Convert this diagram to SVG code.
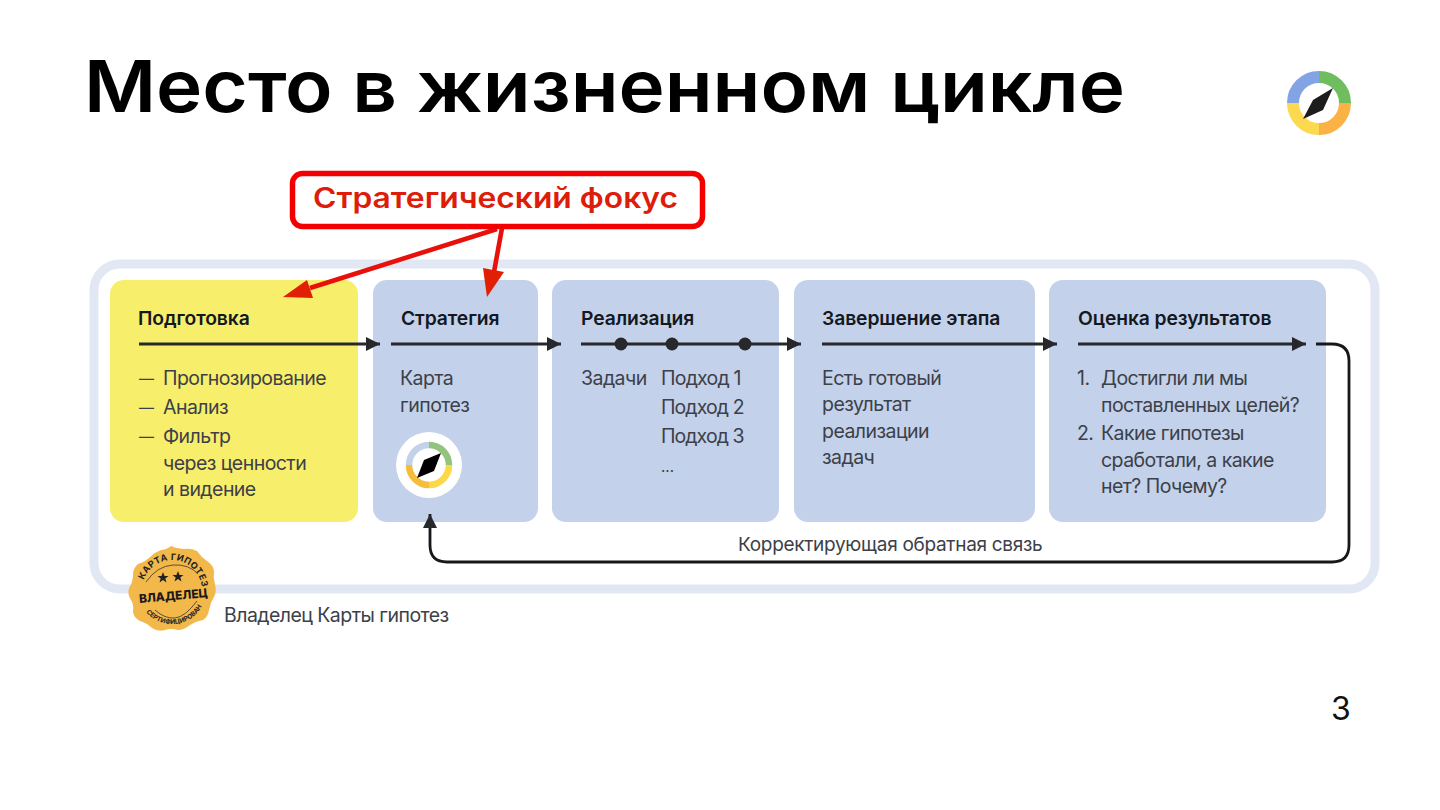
<svg xmlns="http://www.w3.org/2000/svg" width="1440" height="810" viewBox="0 0 1440 810">
<style>
text{font-family:Inter,"Noto Sans",sans-serif}
.h{font-size:19.3px;font-weight:600;fill:#14181f;letter-spacing:-.1px}
.b{font-size:19.5px;fill:#3c4048;letter-spacing:-.55px}
.d{font-size:15px;fill:#3c4048}
.card{fill:#c3d1ea}
.ln{stroke:#26282c;stroke-width:2.8;fill:none}
.red{stroke:#e8100a;stroke-width:4.6;fill:none}
.dot{fill:#26282c}
.seg{fill:none}
</style>
<defs>
<marker id="a" markerUnits="userSpaceOnUse" markerWidth="16" markerHeight="16" refX="14" refY="8" orient="auto"><path d="M0,1 L14,8 L0,15Z" fill="#26282c"/></marker>
<path id="arcTop" d="M146,605 A30,30 0 1 1 198,605"/>
<path id="arcBot" d="M142.600,573 A34,34 0 1 0 201.400,573"/>
</defs>
<rect width="1440" height="810" fill="#fff"/>
<text x="84" y="112" font-size="72" font-weight="600" fill="#000" textLength="1041" lengthAdjust="spacingAndGlyphs">Место в жизненном цикле</text>
<g id="logo">
<g class="seg" stroke-width="12">
<path d="M1319,77A26,26 0 0 0 1293,103" stroke="#82a3e4"/>
<path d="M1319,77A26,26 0 0 1 1345,103" stroke="#6fbd5e"/>
<path d="M1345,103A26,26 0 0 1 1319,129" stroke="#fbb245"/>
<path d="M1319,129A26,26 0 0 1 1293,103" stroke="#fcd94e"/>
</g>
<path d="M1333,88 L1323,110 L1303,119 L1313,100Z" fill="#1c1c1c"/>
</g>
<g id="frame"><rect x="94" y="264" width="1281" height="325" rx="26" fill="none" stroke="#e2e7f4" stroke-width="9"/></g>
<g id="node-prep">
<rect x="110" y="280" width="248" height="242" rx="14" fill="#f7ee6b"/>
<text class="h" x="138" y="325">Подготовка</text>
<text class="d" x="139" y="384">—</text><text class="b" x="163" y="385">Прогнозирование</text>
<text class="d" x="139" y="413">—</text><text class="b" x="163" y="414">Анализ</text>
<text class="d" x="139" y="442">—</text><text class="b" x="163" y="443">Фильтр</text>
<text class="b" x="163" y="470">через ценности</text>
<text class="b" x="163" y="496">и видение</text>
</g>
<g id="node-strategy">
<rect class="card" x="373" y="280" width="165" height="242" rx="14"/>
<text class="h" x="401" y="325">Стратегия</text>
<text class="b" x="400" y="385">Карта</text>
<text class="b" x="400" y="412">гипотез</text>
<circle cx="429" cy="465" r="33" fill="#fff"/>
<g class="seg" stroke-width="6.500">
<path d="M429,445A20,20 0 0 0 409,465" stroke="#c3d1ea"/>
<path d="M429,445A20,20 0 0 1 449,465" stroke="#93c47d"/>
<path d="M449,465A20,20 0 0 1 429,485" stroke="#fdd846"/>
<path d="M429,485A20,20 0 0 1 409,465" stroke="#f5bd3c"/>
</g>
<path d="M441,453 L434,471 L417,478 L424,460Z" fill="#000"/>
</g>
<g id="node-impl">
<rect class="card" x="552" y="280" width="227" height="242" rx="14"/>
<text class="h" x="581" y="325">Реализация</text>
<text class="b" x="581" y="385">Задачи</text>
<text class="b" x="661" y="385" textLength="80">Подход 1</text>
<text class="b" x="661" y="414" textLength="83">Подход 2</text>
<text class="b" x="661" y="443" textLength="83">Подход 3</text>
<text x="661" y="472" font-size="15" fill="#3c4048">...</text>
</g>
<g id="node-finish">
<rect class="card" x="794" y="280" width="241" height="242" rx="14"/>
<text class="h" x="822" y="325">Завершение этапа</text>
<text class="b" x="822" y="385">Есть готовый</text>
<text class="b" x="822" y="411">результат</text>
<text class="b" x="822" y="438">реализации</text>
<text class="b" x="822" y="464">задач</text>
</g>
<g id="node-eval">
<rect class="card" x="1049" y="280" width="277" height="242" rx="14"/>
<text class="h" x="1078" y="325">Оценка результатов</text>
<text class="b" x="1077" y="385">1.</text><text class="b" x="1101" y="385">Достигли ли мы</text>
<text class="b" x="1101" y="412">поставленных целей?</text>
<text class="b" x="1077" y="440">2.</text><text class="b" x="1101" y="440">Какие гипотезы</text>
<text class="b" x="1101" y="467">сработали, а какие</text>
<text class="b" x="1101" y="493">нет? Почему?</text>
</g>
<g id="connectors">
<path class="ln" marker-end="url(#a)" d="M139,344H380"/>
<path class="ln" marker-end="url(#a)" d="M391,344H561"/>
<path class="ln" marker-end="url(#a)" d="M581,344H801"/>
<path class="ln" marker-end="url(#a)" d="M822,344H1057"/>
<path class="ln" marker-end="url(#a)" d="M1078,344H1306"/>
<circle class="dot" cx="621" cy="344" r="6.500"/><circle class="dot" cx="672" cy="344" r="6.500"/><circle class="dot" cx="745" cy="344" r="6.500"/>
<path d="M1316,344H1332Q1349,344 1349,361V545Q1349,562 1332,562H447Q430,562 430,545V514" fill="none" stroke="#16181c" stroke-width="2.800" marker-end="url(#a)"/>
<path class="red" d="M497,229L310,288"/>
<polygon fill="#e01f05" points="283,297 307,280 313,298"/>
<path class="red" d="M502,228L494,272"/>
<polygon fill="#e01f05" points="487,297 483,268 504,272"/>
</g>
<text id="feedback" x="738" y="551" font-size="19" fill="#3c4048" letter-spacing="-.3">Корректирующая обратная связь</text>
<g id="callout">
<rect x="292.500" y="173.500" width="410" height="53" rx="10" fill="#fff" stroke="#f50000" stroke-width="5.500"/>
<text x="313" y="208" font-size="28" font-weight="600" fill="#dd1c0a" textLength="365" lengthAdjust="spacingAndGlyphs">Стратегический фокус</text>
</g>
<g id="badge">
<path fill="#f3b84a" d="M171,546 Q177,549 184,549 Q191,548 197,551 Q201,557 207,561 Q213,565 214,571 Q213,578 215,584 Q217,591 214,597 Q210,603 209,610 Q208,617 203,620 Q196,621 190,625 Q184,630 178,630 Q171,628 165,630 Q158,632 152,628 Q147,623 140,621 Q134,618 133,612 Q134,605 131,600 Q127,594 129,588 Q133,582 133,575 Q133,568 138,564 Q145,562 150,557 Q155,552 161,550 Q166,550 171,546Z"/>
<g transform="rotate(7 172 590)"><text font-size="9" font-weight="700" fill="#222" letter-spacing=".4"><textPath href="#arcTop" startOffset="50%" text-anchor="middle">КАРТА ГИПОТЕЗ</textPath></text></g>
<g transform="rotate(-6 172 590)"><text font-size="6.500" font-weight="700" fill="#222"><textPath href="#arcBot" startOffset="50%" text-anchor="middle">СЕРТИФИЦИРОВАН</textPath></text></g>
<path d="M146,582Q157,566 173,565T198,574M155,610Q165,619 175,618T197,601" fill="none" stroke="#333" stroke-width=".8"/>
<polygon fill="#222" points="163,572 164.500,576 168.500,576 165.300,578.500 166.500,582.500 163,580 159.500,582.500 160.700,578.500 157.500,576 161.500,576"/>
<polygon fill="#222" points="178,571 179.500,575 183.500,575 180.300,577.500 181.500,581.500 178,579 174.500,581.500 175.700,577.500 172.500,575 176.500,575"/>
<text x="139" y="600" transform="rotate(-5 173 597)" font-size="12" font-weight="800" fill="#1a1a1a" textLength="69" lengthAdjust="spacingAndGlyphs">ВЛАДЕЛЕЦ</text>
</g>
<text id="owner" x="224" y="622" font-size="19.500" fill="#3c4048" letter-spacing="-.55">Владелец Карты гипотез</text>
<text id="page" x="1331" y="720" font-size="32" font-weight="400" fill="#111">3</text>
</svg>
